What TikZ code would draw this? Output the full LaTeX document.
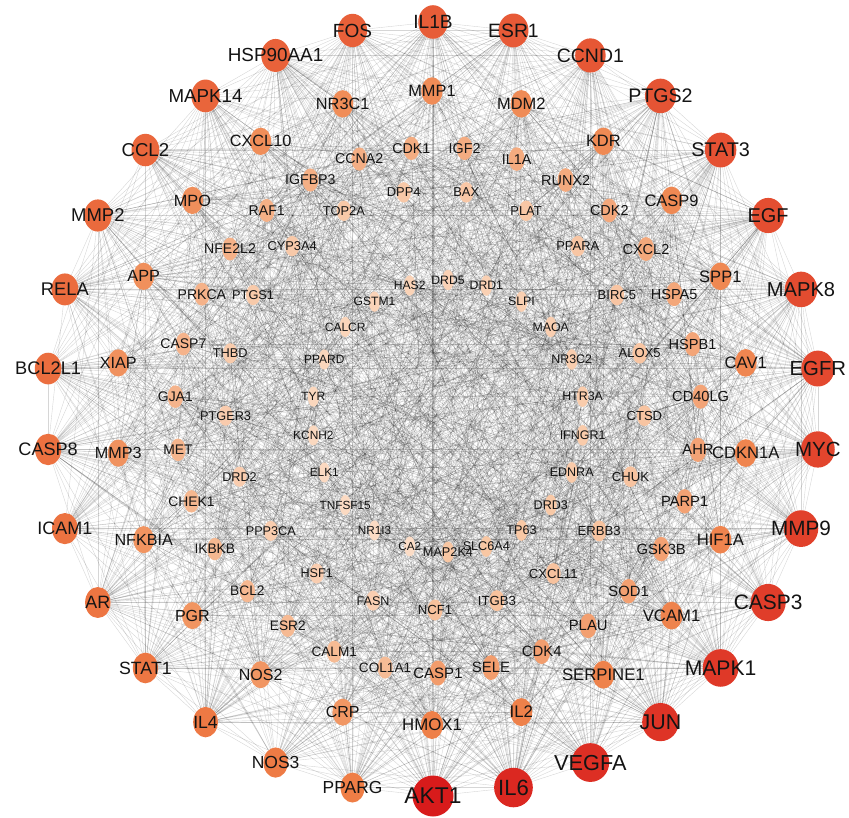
\documentclass[tikz,border=0pt]{standalone}
\usepackage{fontspec}
\setmainfont{Liberation Sans}
\usetikzlibrary{shapes.geometric,backgrounds}
\newcount\gidx
\tikzset{
  gn/.style={ellipse, draw=none, inner sep=0pt, outer sep=0pt},
  lab/.style={inner sep=0pt, text=black!92},
  lnk/.style={draw=black, draw opacity=0.16, line width=0.4pt},
}
\newcommand\placering[1]{%
  \foreach \name [count=\k from 0] in {#1} {%
    \pgfmathsetmacro\rt{\k/(\nn-1)}%
    \ifnum\k=0 \def\rs{0}\else\pgfmathsetmacro\rs{\rt^\ex}\fi
    \pgfmathsetmacro\rang{-90+360*\k/\nn}%
    \pgfmathsetmacro\rw{\wa+(\wb-\wa)*\rs}%
    \pgfmathsetmacro\rh{\ha+(\hb-\ha)*\rs}%
    \pgfmathsetmacro\rf{\fa+(\fb-\fa)*\rs}%
    \pgfmathtruncatemacro\pc{100*\rs}%
    \pgfmathtruncatemacro\wt{\Wa+(\Wb-\Wa)*\rs}%
    \global\advance\gidx by 1
    \edef\nid{\the\gidx}%
    \colorlet{nc}{cB!\pc!cA}%
    \node[gn, fill=nc, minimum width=\rw pt, minimum height=\rh pt] (n\nid) at ({\cx+\rr*cos(\rang)}, {\cy-\rr*sin(\rang)}) {};
    \expandafter\xdef\csname W\nid\endcsname{\wt}%
    \expandafter\xdef\csname L\nid\endcsname{\name}%
    \expandafter\xdef\csname F\nid\endcsname{\rf}%
  }%
}
\def\setring#1#2#3#4#5{\def\cx{#1}\def\cy{#2}\def\rr{#3}\def\nn{#4}\def\ex{#5}}
\def\setsize#1#2#3#4#5#6#7#8{\def\wa{#1}\def\wb{#2}\def\ha{#3}\def\hb{#4}\def\fa{#5}\def\fb{#6}\def\Wa{#7}\def\Wb{#8}}
\begin{document}
\begin{tikzpicture}[x=1pt,y=-1pt]
\useasboundingbox (0,0) rectangle (849,818);
% outer ring
\setring{433}{409}{387}{30}{0.6}
\setsize{41}{24}{41}{30}{22.8}{17.4}{100}{78}
\definecolor{cA}{HTML}{D81B1B}\definecolor{cB}{HTML}{EF7E46}
\placering{AKT1,IL6,VEGFA,JUN,MAPK1,CASP3,MMP9,MYC,EGFR,MAPK8,EGF,STAT3,PTGS2,CCND1,ESR1,IL1B,FOS,HSP90AA1,MAPK14,CCL2,MMP2,RELA,BCL2L1,CASP8,ICAM1,AR,STAT1,IL4,NOS3,PPARG}
% second ring
\setring{432}{408}{317}{22}{1}
\setsize{22}{20.5}{28}{27}{16.8}{16}{70}{60}
\definecolor{cA}{HTML}{EE8049}\definecolor{cB}{HTML}{F19764}
\placering{HMOX1,IL2,SERPINE1,VCAM1,HIF1A,CDKN1A,CAV1,SPP1,CASP9,KDR,MDM2,MMP1,NR3C1,CXCL10,MPO,APP,XIAP,MMP3,NFKBIA,PGR,NOS2,CRP}
% third ring
\setring{438}{410}{263}{31}{1}
\setsize{17}{15}{25}{22}{15}{13.6}{52}{42}
\definecolor{cA}{HTML}{F29C6C}\definecolor{cB}{HTML}{F6BC96}
\placering{CASP1,SELE,CDK4,PLAU,SOD1,GSK3B,PARP1,AHR,CD40LG,HSPB1,HSPA5,CXCL2,CDK2,RUNX2,IL1A,IGF2,CDK1,CCNA2,IGFBP3,RAF1,NFE2L2,PRKCA,CASP7,GJA1,MET,CHEK1,IKBKB,BCL2,ESR2,CALM1,COL1A1}
% fourth ring
\setring{435}{400}{210}{21}{1}
\setsize{15}{14}{21}{20}{13.2}{12.6}{40}{33}
\definecolor{cA}{HTML}{F7C19C}\definecolor{cB}{HTML}{F9CEB1}
\placering{NCF1,ITGB3,CXCL11,ERBB3,CHUK,CTSD,ALOX5,BIRC5,PPARA,PLAT,BAX,DPP4,TOP2A,CYP3A4,PTGS1,THBD,PTGER3,DRD2,PPP3CA,HSF1,FASN}
% inner ring
\setring{448}{416}{136}{22}{1}
\setsize{12}{11}{21}{20}{12.7}{11.7}{30}{22}
\definecolor{cA}{HTML}{F8C6A2}\definecolor{cB}{HTML}{FBDCC6}
\placering{MAP2K4,SLC6A4,TP63,DRD3,EDNRA,IFNGR1,HTR3A,NR3C2,MAOA,SLPI,DRD1,DRD5,HAS2,GSTM1,CALCR,PPARD,TYR,KCNH2,ELK1,TNFSF15,NR1I3,CA2}
% labels
\foreach \i in {1,...,126} {%
  \node[lab, font=\fontsize{\csname F\i\endcsname}{\csname F\i\endcsname}\selectfont] (l\i) at (n\i.center) {\csname L\i\endcsname};
}
% edges
\begin{pgfonlayer}{background}
\fill[white] (0,0) rectangle (849,818);
\pgfmathsetseed{2024}
\foreach \i in {1,...,125} {%
  \pgfmathtruncatemacro\ip{\i+1}%
  \foreach \j in {\ip,...,126} {%
    \pgfmathrandominteger{\rnd}{0}{9999}%
    \ifnum\rnd<\numexpr\csname W\i\endcsname*\csname W\j\endcsname\relax
      \draw[lnk] (n\i) -- (n\j);%
    \fi
  }%
}
\end{pgfonlayer}
\end{tikzpicture}
\end{document}
